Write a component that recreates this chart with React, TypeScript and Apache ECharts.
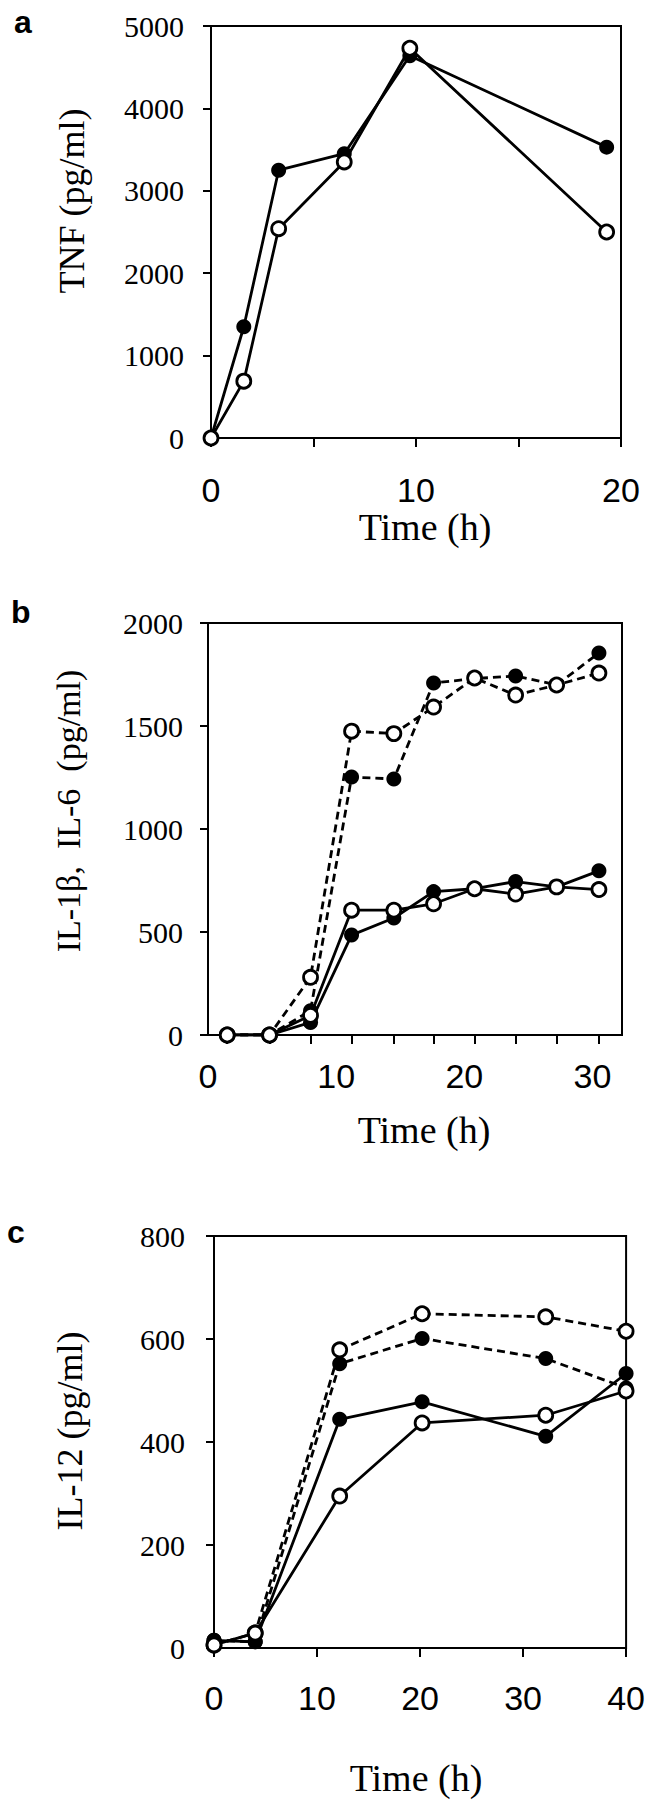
import React, { useEffect, useRef } from "react";
import * as echarts from "echarts";

// Panel a: TNF
const aTimes = [0, 1.6, 3.3, 6.5, 9.7, 19.3];
const aFilled = [0, 1350, 3250, 3450, 4640, 3530];
const aOpen = [0, 690, 2540, 3350, 4730, 2500];
const aYTicks = [0, 1000, 2000, 3000, 4000, 5000];
const aXLabels = [0, 10, 20];

// Panel b: IL-1β (solid), IL-6 (dashed)
const bTimes = [1.5, 4.8, 8.0, 11.2, 14.5, 17.6, 20.8, 24.0, 27.2, 30.5];
const bDashFilled = [0, 0, 118, 1252, 1243, 1709, 1730, 1743, 1700, 1854];
const bDashOpen = [0, 0, 280, 1475, 1463, 1592, 1733, 1650, 1699, 1757];
const bSolidFilled = [0, 0, 61, 485, 568, 696, 710, 745, 719, 797];
const bSolidOpen = [0, 0, 95, 606, 606, 637, 710, 684, 719, 706];
const bXLabels = [0, 10, 20, 30];

// Panel c: IL-12
const cTimes = [0, 4, 12.2, 20.2, 32.2, 40];
const cDashOpen = [6, 29, 579, 649, 643, 615];
const cDashFilled = [15, 12, 552, 601, 562, 505];
const cSolidFilled = [15, 12, 444, 478, 411, 533];
const cSolidOpen = [6, 29, 295, 437, 452, 499];
const cXLabels = [0, 10, 20, 30, 40];

const SERIF = '"Liberation Serif", "Times New Roman", serif';
const SANS = '"Liberation Sans", Arial, sans-serif';

function pairs(t: number[], v: number[]) {
  return t.map((x, i) => [x, v[i]]);
}

function lineSeries(gi: number, t: number[], v: number[], dashed: boolean) {
  return {
    type: "line",
    xAxisIndex: gi,
    yAxisIndex: gi,
    data: pairs(t, v),
    symbol: "none",
    silent: true,
    z: 2,
    lineStyle: { color: "#000", width: 2.8, opacity: 1, type: dashed ? [8, 5] : "solid" },
  };
}

function markerSeries(gi: number, t: number[], v: number[], filled: boolean) {
  return {
    type: "scatter",
    xAxisIndex: gi,
    yAxisIndex: gi,
    data: pairs(t, v),
    symbol: "circle",
    symbolSize: filled ? 15 : 14,
    silent: true,
    z: filled ? 3 : 4,
    itemStyle: filled
      ? { color: "#000", opacity: 1 }
      : { color: "#fff", borderColor: "#000", borderWidth: 2.8, opacity: 1 },
  };
}

function yAxis(gi: number, max: number, interval: number, margin: number) {
  return {
    type: "value",
    gridIndex: gi,
    min: 0,
    max,
    interval,
    axisLine: { show: true, lineStyle: { color: "#000", width: 2 } },
    axisTick: { show: true, inside: false, length: 8, lineStyle: { color: "#000", width: 2 } },
    splitLine: { show: false },
    axisLabel: {
      color: "#000",
      fontFamily: SERIF,
      fontSize: 30,
      margin,
      formatter: (v: number) => String(v),
    },
  };
}

function xAxis(gi: number, max: number, interval: number, margin: number, labels: number[], ticks?: number[]) {
  const tick: any = { show: true, inside: false, length: 9, lineStyle: { color: "#000", width: 2 } };
  if (ticks) tick.customValues = ticks;
  return {
    type: "value",
    gridIndex: gi,
    min: 0,
    max,
    interval,
    axisLine: { show: true, lineStyle: { color: "#000", width: 2 } },
    axisTick: tick,
    splitLine: { show: false },
    axisLabel: {
      color: "#000",
      fontFamily: SANS,
      fontSize: 34,
      margin,
      customValues: labels,
      formatter: (v: number) => String(v),
    },
  };
}

function textEl(text: string, x: number, y: number, font: string, rotate = false, align = "center") {
  return {
    type: "text",
    x,
    y,
    rotation: rotate ? Math.PI / 2 : 0,
    silent: true,
    style: {
      text,
      font,
      fill: "#000",
      textAlign: align,
      align,
      textVerticalAlign: "middle",
      verticalAlign: "middle",
    },
  };
}

export default function App() {
  const ref = useRef<HTMLDivElement>(null);

  useEffect(() => {
    document.body.style.margin = "0";
    if (!ref.current) return;
    const chart = echarts.init(ref.current, undefined, { renderer: "svg" });
    const gridBase = { show: true, borderColor: "#000", borderWidth: 2, backgroundColor: "transparent" };
    const option: any = {
      animation: false,
      backgroundColor: "#fff",
      grid: [
        { ...gridBase, left: 211, top: 26, width: 410, height: 412 },
        { ...gridBase, left: 208, top: 623, width: 414, height: 412 },
        { ...gridBase, left: 214, top: 1236, width: 414, height: 412 },
      ],
      xAxis: [
        xAxis(0, 20, 5, 35, aXLabels),
        xAxis(1, 32.3, 10, 24, bXLabels, bTimes),
        xAxis(2, 40, 10, 33, cXLabels),
      ],
      yAxis: [
        yAxis(0, aYTicks[aYTicks.length - 1], 1000, 27),
        yAxis(1, 2000, 500, 25),
        yAxis(2, 800, 200, 29),
      ],
      series: [
        lineSeries(0, aTimes, aFilled, false),
        lineSeries(0, aTimes, aOpen, false),
        markerSeries(0, aTimes, aFilled, true),
        markerSeries(0, aTimes, aOpen, false),

        lineSeries(1, bTimes, bDashFilled, true),
        lineSeries(1, bTimes, bDashOpen, true),
        lineSeries(1, bTimes, bSolidFilled, false),
        lineSeries(1, bTimes, bSolidOpen, false),
        markerSeries(1, bTimes, bDashFilled, true),
        markerSeries(1, bTimes, bSolidFilled, true),
        markerSeries(1, bTimes, bDashOpen, false),
        markerSeries(1, bTimes, bSolidOpen, false),

        lineSeries(2, cTimes, cDashFilled, true),
        lineSeries(2, cTimes, cDashOpen, true),
        lineSeries(2, cTimes, cSolidFilled, false),
        lineSeries(2, cTimes, cSolidOpen, false),
        markerSeries(2, cTimes, cDashFilled, true),
        markerSeries(2, cTimes, cSolidFilled, true),
        markerSeries(2, cTimes, cDashOpen, false),
        markerSeries(2, cTimes, cSolidOpen, false),
      ],
      graphic: [
        textEl("a", 14, 22, `bold 32px ${SANS}`, false, "left"),
        textEl("b", 11, 612, `bold 32px ${SANS}`, false, "left"),
        textEl("c", 7, 1232, `bold 32px ${SANS}`, false, "left"),
        textEl("TNF (pg/ml)", 72, 201, `36px ${SERIF}`, true),
        textEl("IL-1β,  IL-6  (pg/ml)", 68, 811, `34px ${SERIF}`, true),
        textEl("IL-12 (pg/ml)", 70, 1431, `36px ${SERIF}`, true),
        textEl("Time (h)", 425, 527, `38px ${SERIF}`),
        textEl("Time (h)", 424, 1130, `38px ${SERIF}`),
        textEl("Time (h)", 416, 1778, `38px ${SERIF}`),
      ],
    };
    chart.setOption(option);
    return () => chart.dispose();
  }, []);

  return <div ref={ref} style={{ width: 648, height: 1800, background: "#fff" }} />;
}
